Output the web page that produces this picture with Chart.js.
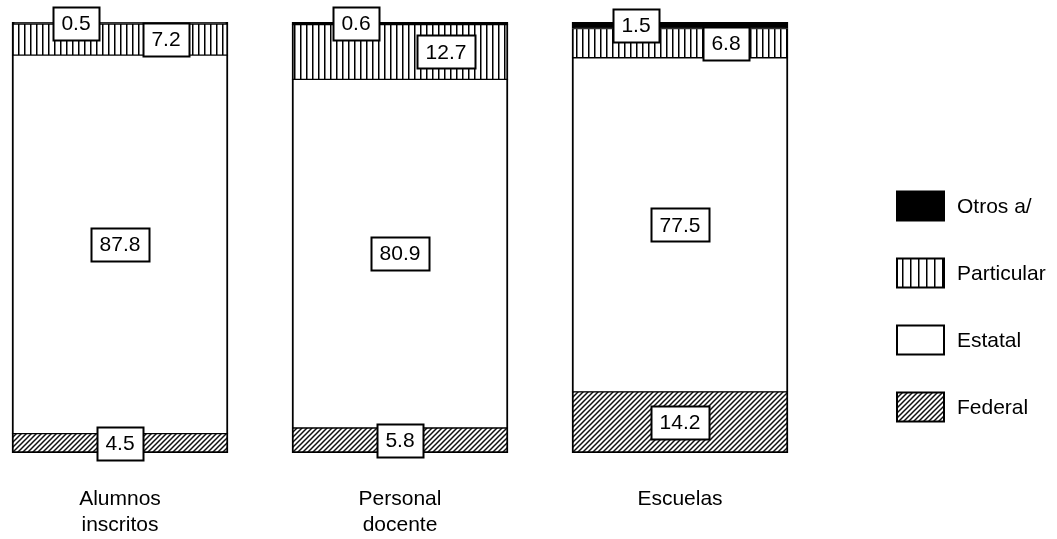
<!DOCTYPE html>
<html><head><meta charset="utf-8">
<script src="https://cdn.jsdelivr.net/npm/chart.js@4"></script>
<style>html,body{margin:0;padding:0;background:#fff;overflow:hidden}#page{position:relative;width:1057px;height:539px;overflow:hidden}#wrap{position:absolute;left:-20px;top:0;width:1077px;height:539px}</style>
</head><body><div id="page"><div id="wrap"><canvas id="c"></canvas></div></div>
<script>
const categories = [['Alumnos','inscritos'], ['Personal','docente'], ['Escuelas']];
const seriesNames = ['Federal', 'Estatal', 'Particular', 'Otros a/'];
const federal = [4.5, 5.8, 14.2];
const estatal = [87.8, 80.9, 77.5];
const particular = [7.2, 12.7, 6.8];
const otros = [0.5, 0.6, 1.5];

const FONT = '"Liberation Sans", Arial, sans-serif';
const SHIFT = 20; // canvas is shifted left by this many px

function vPattern(step){
  const c=document.createElement('canvas'); c.width=step; c.height=6;
  const g=c.getContext('2d');
  g.fillStyle='#fff'; g.fillRect(0,0,step,6);
  g.fillStyle='#000'; g.fillRect(2,0,1.5,6);
  return g.createPattern(c,'repeat');
}
function dPattern(){
  const s=5; const c=document.createElement('canvas'); c.width=s; c.height=s;
  const g=c.getContext('2d');
  g.fillStyle='#fff'; g.fillRect(0,0,s,s);
  g.strokeStyle='#111'; g.lineWidth=1.5;
  g.beginPath();
  g.moveTo(-1,s+1); g.lineTo(s+1,-1);
  g.moveTo(-1,1); g.lineTo(1,-1);
  g.moveTo(s-1,s+1); g.lineTo(s+1,s-1);
  g.stroke();
  return g.createPattern(c,'repeat');
}
const fills = [dPattern(), '#fff', vPattern(6), '#000'];
const legendFills = [fills[0], fills[1], vPattern(8), fills[3]];
const borders = [
  {left:2,right:2,top:1,bottom:2},
  {left:2,right:2,top:1,bottom:1},
  {left:2,right:2,top:1,bottom:1},
  {left:2,right:2,top:2,bottom:1}
];
const seriesValues = [federal, estatal, particular, otros];
const LABEL_DX = [0, 0, 46, -44];

const valueLabels = {
  id:'valueLabels',
  afterDatasetsDraw(chart){
    const ctx=chart.ctx; ctx.save();
    ctx.font='21px '+FONT; ctx.textAlign='center'; ctx.textBaseline='middle';
    chart.data.datasets.forEach((d,di)=>{
      const meta=chart.getDatasetMeta(di);
      meta.data.forEach((el,i)=>{
        const txt=d.data[i].toFixed(1);
        const cx=el.x+LABEL_DX[di], cy=(el.y+el.base)/2;
        const w=Math.round(ctx.measureText(txt).width+17), h=33;
        const x0=Math.round(cx-w/2)+0.5, y0=Math.round(cy-h/2)+0.5;
        ctx.fillStyle='#fff'; ctx.fillRect(x0,y0,w,h);
        ctx.lineWidth=2; ctx.strokeStyle='#000'; ctx.strokeRect(x0,y0,w,h);
        ctx.fillStyle='#000'; ctx.fillText(txt,cx,cy+1);
      });
    });
    ctx.restore();
  }
};
const legendPlugin = {
  id:'customLegend',
  afterDraw(chart){
    const ctx=chart.ctx; ctx.save();
    ctx.font='21px '+FONT; ctx.textAlign='left'; ctx.textBaseline='middle';
    const ds=chart.data.datasets;
    for(let k=0;k<ds.length;k++){
      const di=ds.length-1-k, d=ds[di];
      const y=206+k*67;
      const bx=897+SHIFT, bw=47, bh=29;
      ctx.fillStyle=legendFills[di]; ctx.fillRect(bx,y-bh/2,bw,bh);
      ctx.lineWidth=2; ctx.strokeStyle='#000'; ctx.strokeRect(bx,y-bh/2,bw,bh);
      ctx.fillStyle='#000'; ctx.fillText(d.label,957+SHIFT,y+1);
    }
    ctx.restore();
  }
};

new Chart(document.getElementById('c'), {
  type:'bar',
  data:{
    labels: categories,
    datasets: seriesNames.map((name,di)=>({
      label:name,
      data: seriesValues[di],
      backgroundColor: fills[di],
      borderColor:'#000',
      borderWidth: borders[di],
      borderSkipped:false,
      barThickness:216
    }))
  },
  options:{
    responsive:true, maintainAspectRatio:false, animation:false,
    layout:{padding:{top:22,bottom:1,left:0,right:237}},
    plugins:{legend:{display:false}, tooltip:{enabled:false}},
    scales:{
      x:{stacked:true,
        grid:{display:false, drawTicks:false}, border:{display:false},
        afterFit: axis => { axis.height = 85; },
        ticks:{font:{family:FONT, size:21}, color:'#000', padding:34, maxRotation:0, autoSkip:false}
      },
      y:{display:false, stacked:true, min:0, max:100}
    }
  },
  plugins:[valueLabels, legendPlugin]
});
</script></body></html>
